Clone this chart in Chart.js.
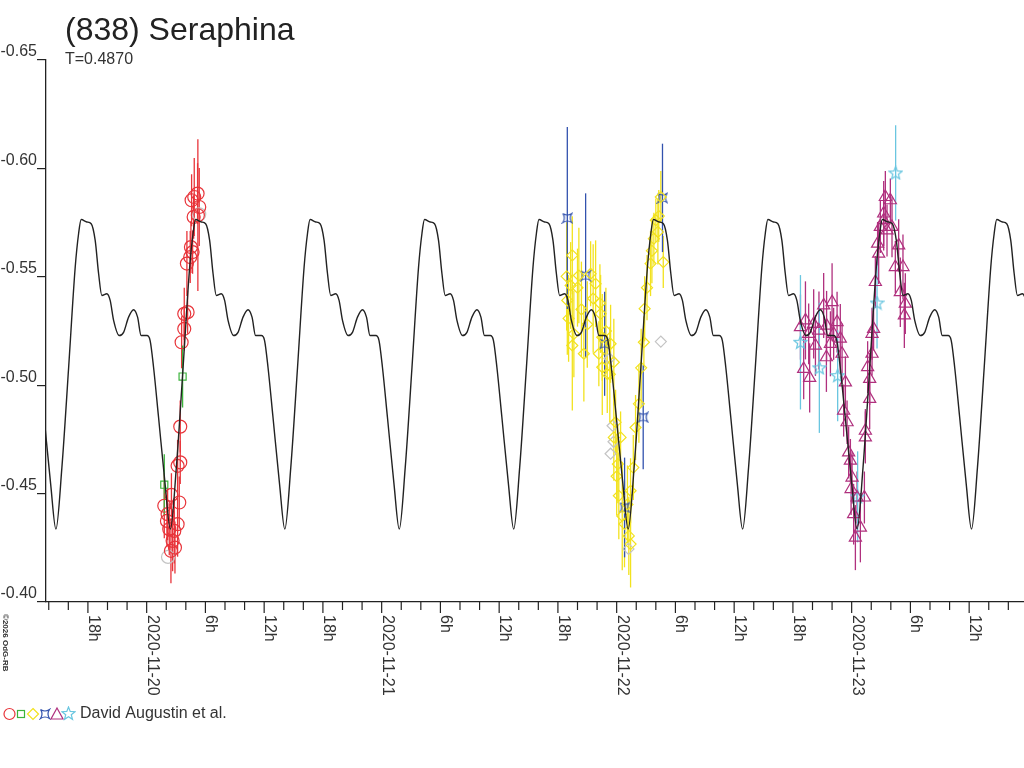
<!DOCTYPE html>
<html>
<head>
<meta charset="utf-8">
<title>(838) Seraphina</title>
<script src="https://cdn.jsdelivr.net/npm/chart.js@4.4.1/dist/chart.umd.min.js"></script>
<style>
  html, body { margin: 0; padding: 0; background: #fff; }
  #wrap { width: 1024px; height: 768px; }
</style>
</head>
<body>
<div id="wrap"><canvas id="lc" width="1024" height="768"></canvas></div>
<script>
// x = hours from 2020-11-20 00:00 UT, y = relative magnitude (reversed axis)
const xMin = -10.28, xMax = 89.6;
const yTicks = [-0.65, -0.60, -0.55, -0.50, -0.45, -0.40];
const dayLabels = ["2020-11-20", "2020-11-21", "2020-11-22", "2020-11-23"];
const titleText = "(838) Seraphina";
const periodText = "T=0.4870";
const observerText = "David Augustin et al.";

// fitted lightcurve, one rotation (hours after the minimum)
const periodDays = 0.4870;
const firstMinHours = 14.11;
const profilePhase = [0, 0.61, 1.30, 1.97, 2.32, 2.58, 3.16, 3.60, 4.01, 4.36, 4.69, 5.20, 5.54,
  5.89, 6.46, 6.91, 7.42, 7.93, 8.34, 8.70, 9.29, 9.62, 9.97, 10.48, 11.15];
const profileMags = [-0.4336, -0.4621, -0.5083, -0.5545, -0.5701, -0.5764, -0.5753, -0.5745, -0.5668,
  -0.5514, -0.5414, -0.5422, -0.5391, -0.5299, -0.5229, -0.5244, -0.5314, -0.5348, -0.5314, -0.5229,
  -0.5229, -0.5206, -0.5083, -0.4852, -0.4544];

// observations
const redHours = [4.86, 5.20, 4.59, 5.37, 5.23, 4.80, 4.52, 4.69, 4.45, 4.11, 4.18, 3.84, 3.84, 3.57,
  3.43, 3.43, 3.16, 3.33, 1.80, 2.14, 3.16, 2.07, 2.82, 2.65, 2.89, 2.48, 2.31, 2.53];
const redMags = [-0.5868, -0.5884, -0.5853, -0.5822, -0.5784, -0.5776, -0.5637, -0.5614, -0.5591, -0.5561,
  -0.5337, -0.5329, -0.5260, -0.5198, -0.4809, -0.4644, -0.4628, -0.4459, -0.4444, -0.4405, -0.4359,
  -0.4374, -0.4328, -0.4282, -0.4251, -0.4236, -0.4336, -0.4494];
const redErrs = [0.018, 0.014, 0.012, 0.018, 0.035, 0.010, 0.012, 0.010, 0.012, 0.015, 0.010, 0.012,
  0.010, 0.012, 0.012, 0.010, 0.012, 0.012, 0.015, 0.012, 0.015, 0.012, 0.015, 0.014, 0.012, 0.015,
  0.012, 0.010];

const greenHours = [3.67, 1.80];
const greenMags = [-0.5040, -0.4541];
const greenErrs = [0.0143, 0.014];

const yellowHours = [43.47, 42.89, 43.30, 44.14, 45.34, 45.85, 42.96, 46.29, 43.63, 43.47, 44.65, 46.36,
  46.53, 46.18, 47.38, 47.71, 46.53, 47.04, 47.89, 47.71, 48.40, 48.12, 48.22, 48.57, 49.42, 49.42,
  49.24, 49.93, 50.27, 50.86, 50.78, 51.46, 51.80, 52.21, 52.76, 52.00, 52.51, 43.09, 44.40, 45.00,
  45.60, 44.00, 46.90, 47.30, 48.00, 48.80, 49.10, 49.70, 50.50, 51.10, 51.60, 52.30];
const yellowMags = [-0.5599, -0.5502, -0.5460, -0.5506, -0.5514, -0.5468, -0.5391, -0.5378, -0.5237,
  -0.5183, -0.5145, -0.5329, -0.5221, -0.5145, -0.5191, -0.5106, -0.5083, -0.5052, -0.4829, -0.4759,
  -0.4759, -0.4636, -0.4490, -0.4397, -0.4513, -0.4267, -0.4305, -0.4805, -0.4914, -0.5353, -0.5198,
  -0.5561, -0.5676, -0.5707, -0.5568, -0.5761, -0.5868, -0.5308, -0.5350, -0.5280, -0.5400, -0.5450,
  -0.5250, -0.5050, -0.4580, -0.4360, -0.4450, -0.4620, -0.5080, -0.5450, -0.5620, -0.5780];
const yellowErrs = [0.018, 0.025, 0.020, 0.022, 0.015, 0.020, 0.025, 0.018, 0.020, 0.030,
  0.022, 0.018, 0.020, 0.015, 0.018, 0.020, 0.022, 0.018, 0.015, 0.020,
  0.012, 0.018, 0.020, 0.025, 0.015, 0.020, 0.018, 0.015, 0.018, 0.015,
  0.012, 0.015, 0.012, 0.015, 0.012, 0.010, 0.012, 0.020, 0.022, 0.020,
  0.025, 0.018, 0.020, 0.022, 0.018, 0.020, 0.018, 0.015, 0.018, 0.015,
  0.015, 0.012];

const blueHours = [42.96, 44.83, 46.77, 48.81, 50.71, 52.68];
const blueMags = [-0.5771, -0.5505, -0.5191, -0.4436, -0.4852, -0.5864];
const blueErrs = [0.042, 0.038, 0.024, 0.023, 0.024, 0.025];

const magentaHours = [67.10, 67.71, 66.77, 67.28, 68.12, 67.61, 69.14, 70.00, 70.51, 69.42, 69.83, 70.16,
  71.02, 71.36, 71.18, 71.53, 71.69, 71.87, 71.94, 72.20, 72.38, 72.89, 73.30, 73.40, 73.40, 73.84,
  73.84, 73.63, 74.08, 74.08, 74.24, 74.42, 74.76, 74.65, 74.93, 75.27, 75.44, 75.95, 75.61, 76.12,
  76.46, 76.80, 77.24, 76.97, 77.48, 77.38, 75.27, 72.55, 72.04, 68.66, 69.44, 68.30, 70.84];
const magentaMags = [-0.5075, -0.5034, -0.5268, -0.5299, -0.5283, -0.5237, -0.5368, -0.5383, -0.5291,
  -0.5129, -0.5191, -0.5237, -0.5145, -0.5013, -0.4883, -0.4829, -0.4690, -0.4652, -0.4521, -0.4405,
  -0.4297, -0.4343, -0.4482, -0.4759, -0.4790, -0.4937, -0.5029, -0.5083, -0.5145, -0.5237, -0.5260,
  -0.5476, -0.5607, -0.5653, -0.5730, -0.5761, -0.5868, -0.5853, -0.5714, -0.5730, -0.5545, -0.5645,
  -0.5545, -0.5429, -0.5376, -0.5322, -0.5792, -0.4482, -0.4574, -0.5252, -0.5275, -0.5183, -0.5215];
const magentaErrs = [0.014, 0.016, 0.015, 0.018, 0.016, 0.014, 0.015, 0.018, 0.014, 0.016,
  0.015, 0.012, 0.014, 0.012, 0.012, 0.010, 0.012, 0.010, 0.012, 0.014,
  0.015, 0.016, 0.012, 0.012, 0.010, 0.014, 0.012, 0.012, 0.010, 0.012,
  0.010, 0.012, 0.014, 0.010, 0.012, 0.014, 0.012, 0.010, 0.012, 0.014,
  0.012, 0.012, 0.015, 0.016, 0.014, 0.015, 0.015, 0.012, 0.012, 0.018,
  0.016, 0.014, 0.016];

const cyanHours = [66.77, 68.70, 70.57, 72.61, 74.59, 76.49];
const cyanMags = [-0.5198, -0.5080, -0.5044, -0.4485, -0.5379, -0.5979];
const cyanErrs = [0.031, 0.030, 0.021, 0.021, 0.021, 0.022];

const grayCircleHours = [2.18, 5.37];
const grayCircleMags = [-0.4208, -0.5788];
const grayDiamondHours = [47.58, 47.68, 47.38, 52.51, 49.21, 47.27];
const grayDiamondMags = [-0.4813, -0.4739, -0.4684, -0.5201, -0.4245, -0.5123];

const RED = "#e8343a", GREEN = "#3cb43c", YELLOW = "#f2e21e", BLUE = "#3252ae",
  MAGENTA = "#b0307e", CYAN = "#6ac6e0", GRAY = "#c4c4c4", INK = "#222";
const FONT = '"Liberation Sans", Arial, sans-serif';

function points(hours, mags) {
  return hours.map((h, i) => ({ x: h, y: mags[i] }));
}

// tile the rotation profile along the time axis
const periodHours = periodDays * 24;
const curvePts = [];
for (let k = -3; k <= 7; k++) {
  profilePhase.forEach((ph, i) => {
    const t = firstMinHours + k * periodHours + ph;
    if (t >= xMin - 2 && t <= xMax + 2) curvePts.push({ x: t, y: profileMags[i] });
  });
}

function markerCanvas(size, draw) {
  const c = document.createElement("canvas");
  c.width = size; c.height = size;
  draw(c.getContext("2d"), size);
  return c;
}
const blueMark = markerCanvas(12, (g) => {
  g.strokeStyle = BLUE; g.lineWidth = 1.2;
  g.beginPath();
  g.moveTo(1.5, 1.5);
  g.quadraticCurveTo(6, 4.5, 10.5, 1.5);
  g.quadraticCurveTo(7.5, 6, 10.5, 10.5);
  g.quadraticCurveTo(6, 7.5, 1.5, 10.5);
  g.quadraticCurveTo(4.5, 6, 1.5, 1.5);
  g.stroke();
});
const starMark = markerCanvas(15, (g) => {
  g.strokeStyle = CYAN; g.lineWidth = 1.2;
  g.beginPath();
  for (let i = 0; i < 10; i++) {
    const r = i % 2 ? 2.9 : 6.8;
    const a = -Math.PI / 2 + i * Math.PI / 5;
    const px = 7.5 + r * Math.cos(a), py = 7.8 + r * Math.sin(a);
    i ? g.lineTo(px, py) : g.moveTo(px, py);
  }
  g.closePath();
  g.stroke();
});

function obs(label, hours, mags, errs, color, style, radius) {
  return {
    label, data: points(hours, mags), errs,
    borderColor: color, backgroundColor: "rgba(0,0,0,0)",
    pointStyle: style, pointRadius: radius, pointHoverRadius: radius,
    pointBorderWidth: 1.2, order: 1
  };
}

function hourLabel(v) {
  const h = ((Math.round(v) % 24) + 24) % 24;
  if (h === 0) return dayLabels[Math.round(v / 24)] || "";
  if (h % 6 === 0) return h + "h";
  return null;
}

const decor = {
  id: "decor",
  beforeDatasetsDraw(chart) {
    const { ctx, scales: { x, y } } = chart;
    ctx.save();
    ctx.lineWidth = 1.3;
    chart.data.datasets.forEach((ds) => {
      if (!ds.errs) return;
      ctx.strokeStyle = ds.borderColor;
      ds.data.forEach((p, j) => {
        const px = x.getPixelForValue(p.x);
        ctx.beginPath();
        ctx.moveTo(px, y.getPixelForValue(p.y - ds.errs[j]));
        ctx.lineTo(px, y.getPixelForValue(p.y + ds.errs[j]));
        ctx.stroke();
      });
    });
    ctx.restore();
  },
  afterDraw(chart) {
    const { ctx, scales: { x }, chartArea } = chart;
    const base = chartArea.bottom;
    ctx.save();
    ctx.strokeStyle = INK; ctx.fillStyle = "#333"; ctx.lineWidth = 1.2;
    ctx.font = "16px " + FONT;
    x.ticks.forEach((t) => {
      const px = x.getPixelForValue(t.value);
      const lab = hourLabel(t.value);
      ctx.beginPath();
      ctx.moveTo(px, base);
      ctx.lineTo(px, base + (lab !== null ? 11 : 8));
      ctx.stroke();
      if (lab) {
        ctx.save();
        ctx.translate(px + 1, base + 13);
        ctx.rotate(Math.PI / 2);
        ctx.textAlign = "left"; ctx.textBaseline = "alphabetic";
        ctx.fillText(lab, 0, 0);
        ctx.restore();
      }
    });
    // copyright, rotated
    ctx.save();
    ctx.translate(1, 614);
    ctx.rotate(Math.PI / 2);
    ctx.font = "bold 8px " + FONT;
    ctx.textAlign = "left"; ctx.textBaseline = "bottom";
    ctx.fillText("\u00a92026 OdG-RB", 0, 0);
    ctx.restore();
    // title
    ctx.fillStyle = INK;
    ctx.font = "32px " + FONT;
    ctx.textAlign = "left"; ctx.textBaseline = "alphabetic";
    ctx.fillText(titleText, 65, 40);
    ctx.fillStyle = "#333";
    ctx.font = "16px " + FONT;
    ctx.fillText(periodText, 65, 64);
    // legend row
    const ly = 714;
    ctx.lineWidth = 1.2;
    ctx.strokeStyle = RED;
    ctx.beginPath(); ctx.arc(9.5, ly, 5.5, 0, Math.PI * 2); ctx.stroke();
    ctx.strokeStyle = GREEN;
    ctx.strokeRect(17.5, ly - 3.5, 7, 7);
    ctx.strokeStyle = YELLOW;
    ctx.beginPath(); ctx.moveTo(33, ly - 5.5); ctx.lineTo(38.5, ly); ctx.lineTo(33, ly + 5.5);
    ctx.lineTo(27.5, ly); ctx.closePath(); ctx.stroke();
    ctx.drawImage(blueMark, 39, ly - 6);
    ctx.strokeStyle = MAGENTA;
    ctx.beginPath(); ctx.moveTo(57, ly - 6); ctx.lineTo(63, ly + 5); ctx.lineTo(51, ly + 5);
    ctx.closePath(); ctx.stroke();
    ctx.drawImage(starMark, 61, ly - 8);
    ctx.fillStyle = "#333";
    ctx.font = "16px " + FONT;
    ctx.fillText(observerText, 80, 718);
    ctx.restore();
  }
};

new Chart(document.getElementById("lc"), {
  type: "scatter",
  data: {
    datasets: [
      {
        label: "fit", data: curvePts, showLine: true, pointRadius: 0, pointHoverRadius: 0,
        borderColor: INK, borderWidth: 1.4, cubicInterpolationMode: "monotone", order: 0
      },
      obs("red", redHours, redMags, redErrs, RED, "circle", 6.5),
      obs("green", greenHours, greenMags, greenErrs, GREEN, "rect", 5),
      obs("yellow", yellowHours, yellowMags, yellowErrs, YELLOW, "rectRot", 5.5),
      obs("blue", blueHours, blueMags, blueErrs, BLUE, blueMark, 6),
      obs("magenta", magentaHours, magentaMags, magentaErrs, MAGENTA, "triangle", 7),
      obs("cyan", cyanHours, cyanMags, cyanErrs, CYAN, starMark, 7),
      obs("gray1", grayCircleHours, grayCircleMags, null, GRAY, "circle", 6.5),
      obs("gray2", grayDiamondHours, grayDiamondMags, null, GRAY, "rectRot", 5.5)
    ]
  },
  options: {
    responsive: false,
    devicePixelRatio: 1,
    animation: false,
    layout: { autoPadding: false, padding: { top: 60, left: 0, right: 0, bottom: 0 } },
    plugins: { legend: { display: false }, tooltip: { enabled: false }, title: { display: false } },
    scales: {
      x: {
        type: "linear", min: xMin, max: xMax,
        ticks: { display: false, stepSize: 2, includeBounds: false },
        grid: { display: false },
        border: { display: true, color: INK, width: 1.3 },
        afterFit: (s) => { s.height = 166; }
      },
      y: {
        type: "linear", min: -0.65, max: -0.40, reverse: true,
        afterBuildTicks: (s) => { s.ticks = yTicks.map((v) => ({ value: v })); },
        ticks: {
          color: "#333", padding: 0, font: { family: FONT, size: 16, lineHeight: 1.0 },
          callback: (v) => [v.toFixed(2), ""]
        },
        grid: { display: true, drawOnChartArea: false, drawTicks: true, tickLength: 9, color: INK, lineWidth: 1.2 },
        border: { display: true, color: INK, width: 1.3 },
        afterFit: (s) => { s.width = 46; }
      }
    }
  },
  plugins: [decor]
});
</script>
</body>
</html>
